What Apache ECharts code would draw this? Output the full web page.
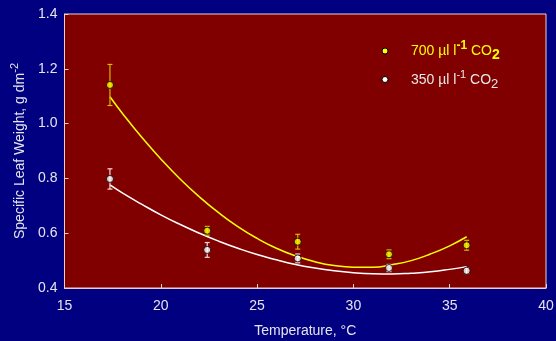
<!DOCTYPE html>
<html><head><meta charset="utf-8">
<script src="https://cdn.jsdelivr.net/npm/echarts@6/dist/echarts.min.js"></script>
<style>html,body{margin:0;padding:0;background:#000080;}#c{width:556px;height:341px;}</style>
</head><body><div id="c"></div>
<script>
// Measured data
var tempX = [17.36, 22.41, 27.11, 31.85, 35.88];
var highCO2 = [1.141, 0.609, 0.569, 0.523, 0.556];
var highErr = [0.075, 0.016, 0.027, 0.016, 0.018];
var lowCO2 = [0.798, 0.539, 0.508, 0.473, 0.463];
var lowErr = [0.037, 0.027, 0.016, 0.013, 0.010];
// Fitted curves
var curveX = [17.36, 18, 19, 20, 21, 22, 23, 24, 25, 26, 27, 28, 29, 30, 31, 32, 33, 34, 35, 35.88];
var highFit = [1.098, 1.038, 0.951, 0.871, 0.798, 0.733, 0.675, 0.624, 0.581, 0.545, 0.517, 0.496, 0.482, 0.476, 0.476, 0.485, 0.500, 0.524, 0.554, 0.587];
var lowFit = [0.776, 0.747, 0.706, 0.667, 0.632, 0.600, 0.571, 0.545, 0.522, 0.503, 0.486, 0.473, 0.463, 0.456, 0.452, 0.451, 0.454, 0.459, 0.468, 0.478];
var xTicks = [15, 20, 25, 30, 35, 40];
var yTicks = [0.4, 0.6, 0.8, 1.0, 1.2, 1.4];

var txt = '#e4e4ec';
var font = 'Liberation Sans, Arial, sans-serif';
function pairs(xs, ys){ return xs.map(function(x,i){ return [x, ys[i]]; }); }
function errData(ys, es){ return tempX.map(function(x,i){ return [x, ys[i]-es[i], ys[i]+es[i]]; }); }
function errSeries(ys, es, color){
  return {
    type: 'custom', z: 3,
    data: errData(ys, es),
    renderItem: function(params, api){
      var x = api.value(0);
      var lo = api.coord([x, api.value(1)]);
      var hi = api.coord([x, api.value(2)]);
      var s = {stroke: color, lineWidth: 1.2};
      return {type: 'group', children: [
        {type: 'line', shape: {x1: lo[0], y1: lo[1], x2: hi[0], y2: hi[1]}, style: s},
        {type: 'line', shape: {x1: lo[0]-2.5, y1: lo[1], x2: lo[0]+2.5, y2: lo[1]}, style: s},
        {type: 'line', shape: {x1: hi[0]-2.5, y1: hi[1], x2: hi[0]+2.5, y2: hi[1]}, style: s}
      ]};
    }
  };
}
var chart = echarts.init(document.getElementById('c'));
var richBase = {
  a: {fontSize: 14, fontFamily: font, lineHeight: 22},
  sup: {fontSize: 11, fontFamily: font, verticalAlign: 'top', lineHeight: 22},
  supb: {fontSize: 12, fontWeight: 'bold', fontFamily: font, verticalAlign: 'top', lineHeight: 22},
  sub: {fontSize: 13, fontFamily: font, verticalAlign: 'bottom', lineHeight: 22},
  subb: {fontSize: 14, fontWeight: 'bold', fontFamily: font, verticalAlign: 'bottom', lineHeight: 22}
};
function richColor(c, key){
  var r = {};
  for (var k in richBase){ var o = Object.assign({}, richBase[k]); o[key] = c; r[k] = o; }
  return r;
}
chart.setOption({
  backgroundColor: '#000080',
  animation: false,
  grid: {left: 64.5, right: 10, top: 14, bottom: 53, outerBoundsMode: 'none', containLabel: false, show: true, backgroundColor: '#800000', borderColor: '#e8d0d0', borderWidth: 1},
  xAxis: {
    type: 'value', min: 15, max: 40, interval: 5,
    name: 'Temperature, °C', nameLocation: 'middle', nameGap: 36,
    nameTextStyle: {color: txt, fontSize: 14, fontFamily: font},
    axisLine: {show: true, lineStyle: {color: '#e8d0d0'}},
    axisTick: {show: true, inside: true, length: 4, lineStyle: {color: '#e8d0d0'}},
    axisLabel: {color: txt, fontSize: 14, fontFamily: font, margin: 11, formatter: function(v){ return xTicks.indexOf(v) >= 0 ? String(v) : ''; }},
    splitLine: {show: false}
  },
  yAxis: {
    type: 'value', min: 0.4, max: 1.4, interval: 0.2,
    name: 'Specific Leaf Weight, g dm{sup|-2}', nameLocation: 'middle', nameGap: 31,
    nameTextStyle: {color: txt, fontSize: 14, fontFamily: font, rich: richColor(txt, 'color')},
    axisLine: {show: true, lineStyle: {color: '#e8d0d0'}},
    axisTick: {show: true, inside: true, length: 4, lineStyle: {color: '#e8d0d0'}},
    axisLabel: {color: txt, fontSize: 14, fontFamily: font, margin: 7, formatter: function(v){ return v.toFixed(1); }},
    splitLine: {show: false}
  },
  series: [
    {type: 'line', data: pairs(curveX, highFit), smooth: true, showSymbol: false, lineStyle: {color: '#ffff00', width: 1.5}, z: 2},
    {type: 'line', data: pairs(curveX, lowFit), smooth: true, showSymbol: false, lineStyle: {color: '#ffffff', width: 1.5}, z: 2},
    errSeries(highCO2, highErr, '#d8b800'),
    errSeries(lowCO2, lowErr, '#f4d8d8'),
    {type: 'scatter', data: pairs(tempX, highCO2), symbol: 'circle', symbolSize: 7, itemStyle: {color: '#ffff00', borderColor: '#000', borderWidth: 1}, z: 4},
    {type: 'scatter', data: pairs(tempX, lowCO2), symbol: 'circle', symbolSize: 7, itemStyle: {color: '#ffffff', borderColor: '#000', borderWidth: 1}, z: 4}
  ],
  graphic: [
    {type: 'circle', shape: {cx: 385, cy: 51, r: 3}, style: {fill: '#ffff00', stroke: '#000', lineWidth: 1}, z: 10},
    {type: 'circle', shape: {cx: 385, cy: 79.5, r: 3}, style: {fill: '#ffffff', stroke: '#000', lineWidth: 1}, z: 10},
    {type: 'text', left: 411, top: 40, z: 10, style: {text: '{a|700 µl l}{supb|-1}{a| CO}{subb|2}', fill: '#ffff00', rich: richColor('#ffff00', 'fill')}},
    {type: 'text', left: 411, top: 69, z: 10, style: {text: '{a|350 µl l}{sup|-1}{a| CO}{sub|2}', fill: '#e8e8e8', rich: richColor('#e8e8e8', 'fill')}}
  ]
});
</script></body></html>
